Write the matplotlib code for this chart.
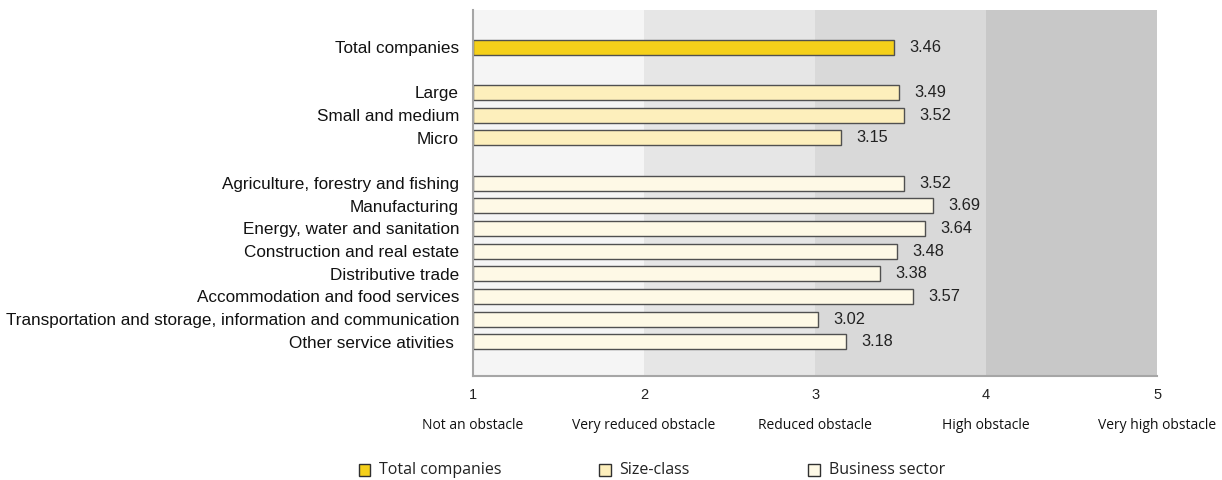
#!/usr/bin/env python3

import matplotlib.pyplot as plt

import matplotlib
matplotlib.rcParams['font.family'] = ['Liberation Sans', 'DejaVu Sans']

labels = [
    'Total companies',
    'Large', 'Small and medium', 'Micro',
    'Agriculture, forestry and fishing', 'Manufacturing',
    'Energy, water and sanitation', 'Construction and real estate',
    'Distributive trade', 'Accommodation and food services',
    'Transportation and storage, information and communication',
    'Other service ativities ',
]
values = [3.46, 3.49, 3.52, 3.15, 3.52, 3.69, 3.64, 3.48, 3.38, 3.57, 3.02, 3.18]
groups = [0, 1, 1, 1, 2, 2, 2, 2, 2, 2, 2, 2]
slots = [0, 2, 3, 4, 6, 7, 8, 9, 10, 11, 12, 13]

group_names = ['Total companies', 'Size-class', 'Business sector']
group_colors = ['#F5D01A', '#FDEFBC', '#FEF9E6']

scale_ticks = [1, 2, 3, 4, 5]
scale_names = ['Not an obstacle', 'Very reduced obstacle', 'Reduced obstacle',
               'High obstacle', 'Very high obstacle']
band_colors = ['#F5F5F5', '#E6E6E6', '#D9D9D9', '#C8C8C8']

fig = plt.figure(figsize=(12.22, 4.8), dpi=100)
ax = fig.add_axes([0.387, 0.217, 0.560, 0.762])

# shaded background per scale step
for lo, col in zip(scale_ticks[:-1], band_colors):
    ax.axvspan(lo, lo + 1, color=col, zorder=0, lw=0)

colors = [group_colors[g] for g in groups]
ax.barh(slots, [v - 1 for v in values], left=1, height=0.66,
        color=colors, edgecolor='#505050', linewidth=1.0, zorder=2)

for s, v in zip(slots, values):
    ax.annotate(f'{v:.2f}', (v, s), xytext=(11, 0), textcoords='offset points',
                va='center', ha='left', fontsize=11.8, color='#222222')

ax.set_xlim(1, 5)
ax.set_ylim(13 + 1.5, -1.63)
ax.set_yticks(slots)
ax.set_yticklabels(labels, fontsize=12.3, color='#111111')
ax.set_xticks(scale_ticks)
ax.set_xticklabels([str(t) for t in scale_ticks], fontsize=10.5, color='#222222')
ax.tick_params(axis='both', length=0)
ax.tick_params(axis='x', pad=9)
ax.tick_params(axis='y', pad=10)

for side in ['top', 'right']:
    ax.spines[side].set_visible(False)
for side in ['left', 'bottom']:
    ax.spines[side].set_color('#A6A6A6')
    ax.spines[side].set_linewidth(1.5)

# verbal scale under the numeric ticks
for t, name in zip(scale_ticks, scale_names):
    ax.annotate(name, (t, 0), xycoords=('data', 'axes fraction'),
                xytext=(0, -36), textcoords='offset points',
                ha='center', va='center', fontsize=10,
                family=['Open Sans', 'DejaVu Sans'], color='#111111')

# legend drawn by hand so the entries sit at fixed spots along the bottom
leg_x = [0.299, 0.496, 0.667]
for x, c, name in zip(leg_x, group_colors, group_names):
    fig.patches.append(plt.Rectangle((x - 0.0055, 0.009), 0.0095, 0.024,
                                     transform=fig.transFigure, facecolor=c,
                                     edgecolor='#303030', linewidth=1.0))
    fig.text(x + 0.011, 0.021, name, va='center', ha='left', fontsize=11.5,
             family=['Open Sans', 'DejaVu Sans'], color='#222222')

plt.savefig('out.png')
